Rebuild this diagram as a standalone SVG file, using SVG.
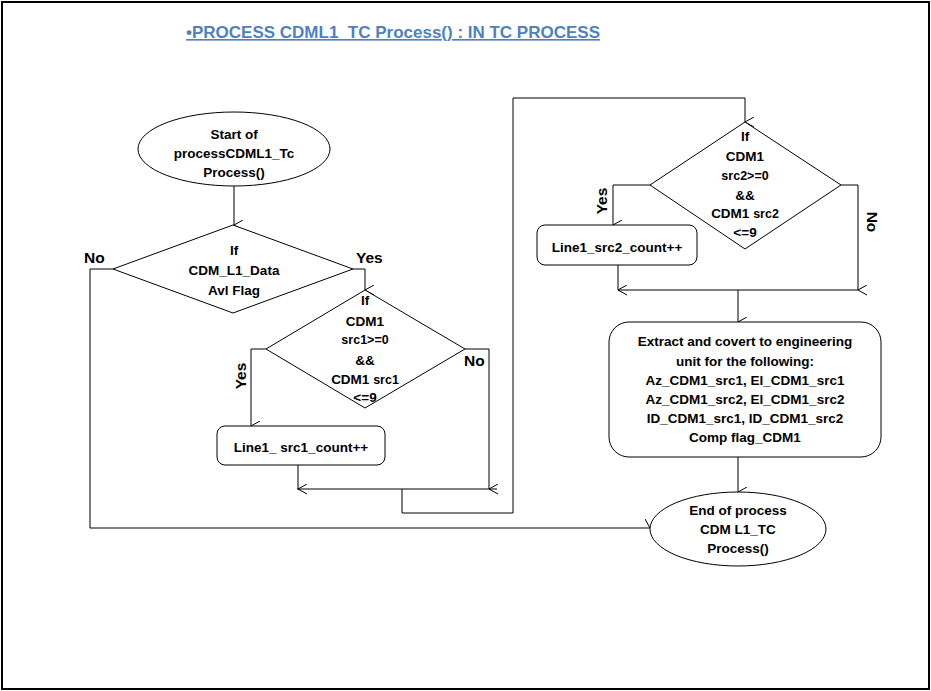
<svg xmlns="http://www.w3.org/2000/svg" width="931" height="691" viewBox="0 0 931 691">
<defs>
<style>
.t{font-family:"Liberation Sans",Arial,sans-serif;font-weight:bold;font-size:13.5px;fill:#000;text-anchor:middle}
.sm{font-size:12.5px}
.s{fill:#fff;stroke:#000;stroke-width:1}
.c{fill:none;stroke:#000;stroke-width:1}
.lbl{font-family:"Liberation Sans",Arial,sans-serif;font-weight:bold;font-size:15.5px;fill:#000}
</style>
<marker id="a" markerWidth="12" markerHeight="12" refX="5" refY="9" orient="auto" markerUnits="userSpaceOnUse" viewBox="0 0 12 12">
<polyline points="0,0 5,9 10,0" fill="none" stroke="#000" stroke-width="1"/>
</marker>
</defs>
<rect x="0" y="0" width="931" height="691" fill="#fff"/>
<rect x="2" y="2" width="927" height="687" fill="none" stroke="#000" stroke-width="2"/>
<g id="title">
<text x="186" y="38" font-family="'Liberation Sans',Arial,sans-serif" font-weight="bold" font-size="16.5" fill="#4f81bd" text-decoration="underline" textLength="414" lengthAdjust="spacingAndGlyphs">•PROCESS CDML1&#160; TC Process() : IN TC PROCESS</text>
</g>
<g id="connectors">
<line class="c" x1="234" y1="186" x2="234" y2="225" marker-end="url(#a)"/>
<polyline class="c" points="113,269 90,269 90,528 650,528" marker-end="url(#a)"/>
<polyline class="c" points="353,269 365,269 365,290" marker-end="url(#a)"/>
<polyline class="c" points="266,349 251,349 251,426" marker-end="url(#a)"/>
<polyline class="c" points="465,349 489,349 489,489" marker-end="url(#a)"/>
<line class="c" x1="298" y1="465" x2="298" y2="489" marker-end="url(#a)"/>
<line class="c" x1="297" y1="489" x2="497" y2="489"/>
<polyline class="c" points="402,489 402,513 513,513 513,98 745,98 745,122" marker-end="url(#a)"/>
<polyline class="c" points="650,185 613,185 613,225" marker-end="url(#a)"/>
<polyline class="c" points="841,185 858,185 858,290" marker-end="url(#a)"/>
<line class="c" x1="618" y1="265" x2="618" y2="290" marker-end="url(#a)"/>
<line class="c" x1="618" y1="290" x2="858" y2="290"/>
<line class="c" x1="738" y1="290" x2="738" y2="322" marker-end="url(#a)"/>
<line class="c" x1="738" y1="457" x2="738" y2="492" marker-end="url(#a)"/>
<text class="lbl" x="84" y="263">No</text>
<text class="lbl" x="356" y="263">Yes</text>
<text class="lbl" x="464" y="366">No</text>
<text class="lbl" transform="translate(246,376) rotate(-90)" text-anchor="middle">Yes</text>
<text class="lbl" transform="translate(607,201) rotate(-90)" text-anchor="middle">Yes</text>
<text class="lbl" transform="translate(867,222) rotate(90)" text-anchor="middle">No</text>
</g>
<g id="start">
<ellipse class="s" cx="234" cy="149" rx="96" ry="37"/>
<text class="t" x="234" y="139">Start of</text>
<text class="t" x="234" y="158">processCDML1_Tc</text>
<text class="t" x="234" y="177">Process()</text>
</g>
<g id="dec1">
<polygon class="s" points="233,225 353,269 233,313 113,269"/>
<text class="t" x="234" y="255">If</text>
<text class="t" x="234" y="275">CDM_L1_Data</text>
<text class="t" x="234" y="295">Avl Flag</text>
</g>
<g id="dec2">
<polygon class="s" points="365,290 465,349 365,408 266,349"/>
<text class="t" x="365" y="305">If</text>
<text class="t" x="365" y="326">CDM1</text>
<text class="t sm" x="365" y="344">src1&gt;=0</text>
<text class="t" x="365" y="365">&amp;&amp;</text>
<text class="t" x="365" y="384">CDM1 <tspan class="sm">src1</tspan></text>
<text class="t" x="365" y="402">&lt;=9</text>
</g>
<g id="proc1">
<rect class="s" x="217" y="426" width="168" height="39" rx="8"/>
<text class="t" x="301" y="452">Line1_ src1_count++</text>
</g>
<g id="dec3">
<polygon class="s" points="745,122 841,185 745,249 650,185"/>
<text class="t" x="745" y="141">If</text>
<text class="t" x="745" y="161">CDM1</text>
<text class="t sm" x="745" y="180">src2&gt;=0</text>
<text class="t" x="745" y="200">&amp;&amp;</text>
<text class="t" x="745" y="218">CDM1 <tspan class="sm">src2</tspan></text>
<text class="t" x="745" y="237">&lt;=9</text>
</g>
<g id="proc2">
<rect class="s" x="537" y="225" width="160" height="40" rx="8"/>
<text class="t" x="617" y="252">Line1_src2_count++</text>
</g>
<g id="proc3">
<rect class="s" x="609" y="322" width="272" height="135" rx="20"/>
<text class="t" x="745" y="346">Extract and covert to engineering</text>
<text class="t" x="745" y="366">unit for the following:</text>
<text class="t" x="745" y="385">Az_CDM1_src1, El_CDM1_src1</text>
<text class="t" x="745" y="404">Az_CDM1_src2, El_CDM1_src2</text>
<text class="t" x="745" y="423">ID_CDM1_src1, ID_CDM1_src2</text>
<text class="t" x="745" y="442">Comp flag_CDM1</text>
</g>
<g id="end">
<ellipse class="s" cx="738" cy="529" rx="88" ry="37"/>
<text class="t" x="738" y="515">End of process</text>
<text class="t" x="738" y="534">CDM L1_TC</text>
<text class="t" x="738" y="553">Process()</text>
</g>
</svg>
